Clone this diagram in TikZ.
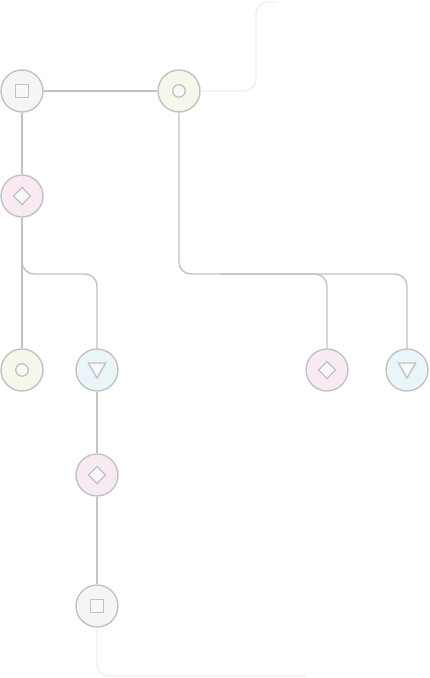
\documentclass[tikz,border=0pt]{standalone}
\usetikzlibrary{shapes.geometric,calc}
\definecolor{edgegray}{HTML}{C2C2C2}
\definecolor{fgray}{HTML}{F5F5F5}
\definecolor{fgreen}{HTML}{F4F7E9}
\definecolor{fpink}{HTML}{F8E9F3}
\definecolor{fblue}{HTML}{E9F5F8}
\definecolor{faintgray}{HTML}{EEEEEE}
\definecolor{faintpink}{HTML}{F6E6EE}
\definecolor{glyphfill}{HTML}{F8F8F8}
\tikzset{
  hub/.style={circle,draw=edgegray,line width=1.4pt,minimum size=42pt,inner sep=0pt},
  conn/.style={draw=edgegray,line width=1.4pt,rounded corners=12pt},
  gsq/.style={rectangle,draw=edgegray,fill=glyphfill,line width=1.3pt,minimum size=12.5pt,inner sep=0pt},
  gci/.style={circle,draw=edgegray,fill=glyphfill,line width=1.3pt,minimum size=12.5pt,inner sep=0pt},
  gdi/.style={diamond,draw=edgegray,fill=glyphfill,line width=1.3pt,minimum size=17.5pt,inner sep=0pt},
  gtr/.style={regular polygon,regular polygon sides=3,shape border rotate=180,draw=edgegray,fill=glyphfill,line width=1.3pt,minimum size=20pt,inner sep=0pt},
}
\begin{document}
\begin{tikzpicture}[x=1pt,y=-1pt]
\useasboundingbox (0,0) rectangle (430,678);
\coordinate (topend) at (278,2);
\coordinate (botend) at (306,676);
% hubs
\node[hub,fill=fgray]  (A) at (22,91) {};
\node[hub,fill=fgreen] (B) at (179,91) {};
\node[hub,fill=fpink]  (C) at (22,196) {};
\node[hub,fill=fgreen] (D) at (22,370) {};
\node[hub,fill=fblue]  (E) at (97,370) {};
\node[hub,fill=fpink]  (F) at (327,370) {};
\node[hub,fill=fblue]  (G) at (407,370) {};
\node[hub,fill=fpink]  (H) at (97,475) {};
\node[hub,fill=fgray]  (I) at (97,606) {};
% connectors
\draw[conn,draw=faintgray] (B.east) -| (256,2) -- (topend);
\draw[conn,draw=faintpink] (I.south) |- (botend);
\draw[conn] (A) -- (B);
\draw[conn] (A) -- (C);
\draw[conn] (C) -- (D);
\draw[conn] (C.south) -- (C.south |- 0,274) -| (E.north);
\draw[conn] (B.south) -- (B.south |- 0,274) -| (G.north);
\draw[conn] ($(B.south |- 0,274)+(40,0)$) -| (F.north);
\draw[conn] (E) -- (H);
\draw[conn] (H) -- (I);
% glyphs
\node[gsq] (gA) at (A) {};
\node[gci] (gB) at (B) {};
\node[gdi] (gC) at (C) {};
\node[gci] (gD) at (D) {};
\node[gtr] (gE) at ($(E)+(0,-2)$) {};
\node[gdi] (gF) at (F) {};
\node[gtr] (gG) at ($(G)+(0,-2)$) {};
\node[gdi] (gH) at (H) {};
\node[gsq] (gI) at (I) {};
\end{tikzpicture}
\end{document}
